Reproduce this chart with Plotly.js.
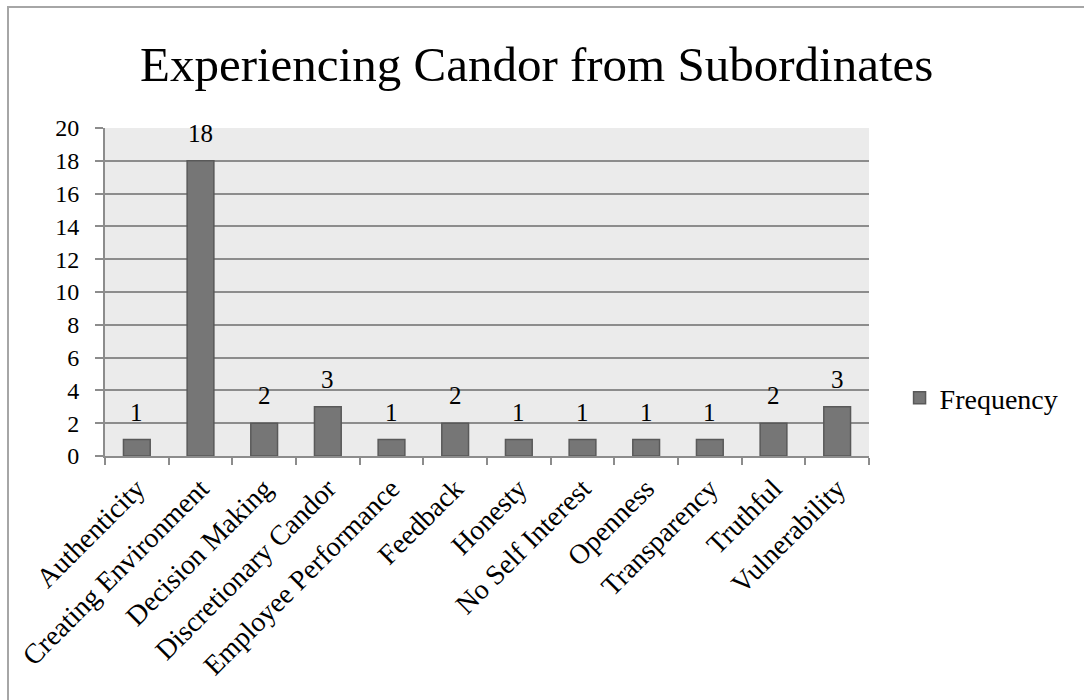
<!DOCTYPE html>
<html>
<head>
<meta charset="utf-8">
<script src="https://cdn.plot.ly/plotly-3.0.1.min.js"></script>
<style>
  html, body { margin: 0; padding: 0; background: #fff; }
  #frame { position: absolute; left: 7px; top: 6px; width: 1090px; height: 710px;
           border-left: 2px solid #a6a6a6; border-top: 2px solid #a6a6a6; }
  #chart { position: absolute; left: 0; top: 0; width: 1084px; height: 700px; }
</style>
</head>
<body>
<div id="frame"></div>
<div id="chart"></div>
<script>
const categories = ["Authenticity", "Creating Environment", "Decision Making", "Discretionary Candor",
  "Employee Performance", "Feedback", "Honesty", "No Self Interest", "Openness",
  "Transparency", "Truthful", "Vulnerability"];
const frequency = [1, 18, 2, 3, 1, 2, 1, 1, 1, 1, 2, 3];
const yTicks = [0, 2, 4, 6, 8, 10, 12, 14, 16, 18, 20];

const FONT = "Liberation Serif, Times New Roman, serif";

const trace = {
  type: "bar",
  name: "Frequency",
  x: categories,
  y: frequency,
  marker: { color: "#767676", line: { color: "#595959", width: 1.5 } },
  showlegend: true
};

// data labels placed through the axes, above each bar
const labels = categories.map((c, i) => ({
  x: c, y: frequency[i], xref: "x", yref: "y",
  text: String(frequency[i]),
  showarrow: false, yanchor: "bottom", xanchor: "center", yshift: 12,
  font: { family: FONT, size: 25, color: "#000" }
}));

const layout = {
  width: 1084, height: 700,
  paper_bgcolor: "rgba(0,0,0,0)",
  plot_bgcolor: "#ebebeb",
  margin: { l: 105, r: 215, t: 128, b: 244 },
  bargap: 0.58,
  annotations: labels,
  title: {
    text: "Experiencing Candor from Subordinates",
    font: { family: FONT, size: 49, color: "#000" },
    x: 0.565, xanchor: "center", y: 0.909, yanchor: "middle", xref: "paper"
  },
  xaxis: {
    type: "category",
    tickangle: -45,
    tickson: "boundaries",
    ticks: "outside", ticklen: 7, tickcolor: "#8c8c8c", tickwidth: 2,
    showline: true, linecolor: "#8c8c8c", linewidth: 2,
    showgrid: false,
    ticklabelstandoff: 3,
    tickfont: { family: FONT, size: 28, color: "#000" },
    automargin: false
  },
  yaxis: {
    range: [0, 20],
    tickvals: yTicks,
    ticktext: yTicks.map(String),
    ticks: "outside", ticklen: 8, tickcolor: "#8c8c8c", tickwidth: 2,
    showline: true, linecolor: "#8c8c8c", linewidth: 2,
    showgrid: true, gridcolor: "#8c8c8c", gridwidth: 2,
    zeroline: false,
    ticklabelstandoff: 11,
    tickfont: { family: FONT, size: 24, color: "#000" },
    automargin: false
  },
  legend: {
    x: 1.04, xanchor: "left", y: 0.177, yanchor: "middle",
    font: { family: FONT, size: 28, color: "#000" },
    bgcolor: "rgba(0,0,0,0)",
    itemwidth: 30
  }
};

Plotly.newPlot("chart", [trace], layout, { displayModeBar: false, staticPlot: true });
</script>
</body>
</html>
